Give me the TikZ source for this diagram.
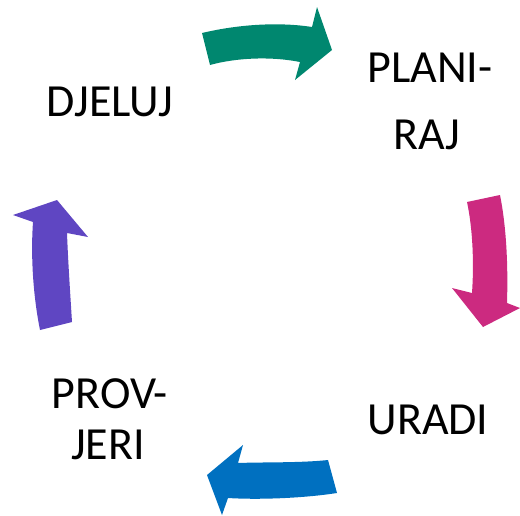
\documentclass[tikz,border=0pt]{standalone}
\usepackage{fontspec}
\setmainfont{Carlito}
\begin{document}
\begin{tikzpicture}[x=1pt,y=-1pt,
  word/.style={anchor=base,inner sep=0pt,font=\fontsize{46}{50}\selectfont},
  bigarrow/.style={draw=none}]
\useasboundingbox (0,0) rectangle (520,515);
\definecolor{cgreen}{RGB}{0,135,111}
\definecolor{cmagenta}{RGB}{204,42,128}
\definecolor{cblue}{RGB}{0,112,192}
\definecolor{cpurple}{RGB}{95,70,194}

% stage labels
\node[word] (djeluj) at (110,116) {DJELUJ};
\node[word] (plan1) at (430,82) {PLANI-};
\node[word] (plan2) at (427,149) {RAJ};
\node[word] (uradi) at (428,434) {URADI};
\node[word] (prov1) at (110,408) {PROV-};
\node[word] (prov2) at (108,459) {JERI};

% curved block arrows of the cycle
\fill[cgreen,bigarrow] (202,33) .. controls (240,24) and (280,22) .. (312,27)
  -- (317,7) -- (332,50) -- (295,80) -- (300,62)
  .. controls (270,56) and (235,58) .. (210,65) -- cycle;
\fill[cmagenta,bigarrow] (467,202) -- (500,195)
  .. controls (507,230) and (508,270) .. (507,303)
  -- (520,308) -- (483,327) -- (452,288) -- (472,293)
  .. controls (474,265) and (473,230) .. (467,202) -- cycle;
\fill[cblue,bigarrow] (328,460) -- (337,493)
  .. controls (305,498) and (260,500) .. (228,498)
  -- (222,515) -- (207,475) -- (243,445) -- (238,463)
  .. controls (265,462) and (300,463) .. (328,460) -- cycle;
\fill[cpurple,bigarrow] (40,330) -- (72,322)
  .. controls (70,290) and (68,260) .. (67,233)
  -- (88,237) -- (57,200) -- (13,215) -- (33,222)
  .. controls (31,250) and (32,290) .. (40,330) -- cycle;
\end{tikzpicture}
\end{document}
